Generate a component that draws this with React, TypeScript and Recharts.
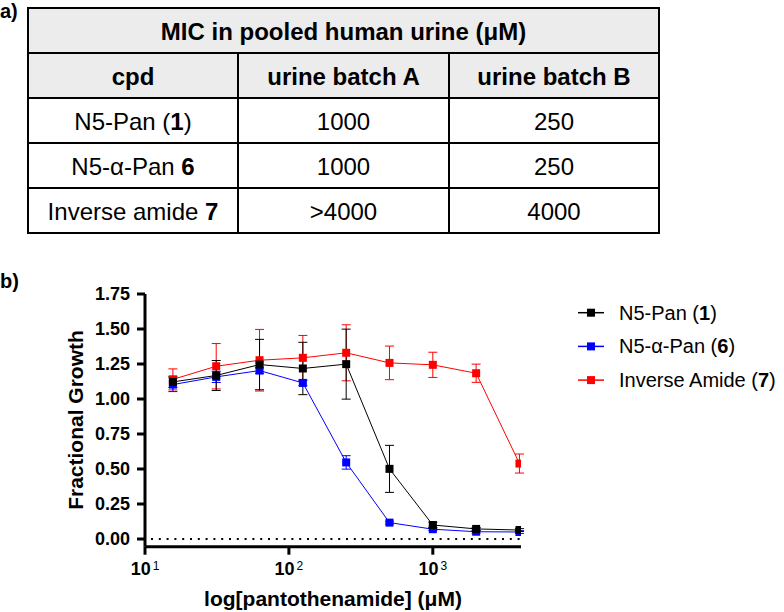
import React from 'react';
import { LineChart, Line, XAxis, YAxis, ErrorBar, ReferenceLine } from 'recharts';

// ---------- data ----------
const concentrations = [15.625, 31.25, 62.5, 125, 250, 500, 1000, 2000, 4000];

const n5Pan = [1.122, 1.168, 1.246, 1.218, 1.249, 0.501, 0.1, 0.072, 0.064];
const n5PanSD = [0.04, 0.107, 0.18, 0.187, 0.25, 0.168, 0.02, 0.01, 0.01];

const n5AlphaPan = [1.103, 1.158, 1.203, 1.115, 0.547, 0.117, 0.07, 0.052, 0.05];
const n5AlphaPanSD = [0.05, 0.04, 0.02, 0.02, 0.048, 0.01, 0.01, 0.01, 0.01];

const inverseAmide = [1.14, 1.234, 1.277, 1.294, 1.33, 1.258, 1.244, 1.184, 0.539];
const inverseAmideSD = [0.075, 0.162, 0.22, 0.16, 0.2, 0.12, 0.09, 0.065, 0.068];

const xTicks = [10, 100, 1000];
const xTickExponents = ['1', '2', '3'];
const yTicks = [0, 0.25, 0.5, 0.75, 1, 1.25, 1.5, 1.75];

const legendNames = [
  ['N5-Pan (', '1', ')'],
  ['N5-α-Pan (', '6', ')'],
  ['Inverse Amide (', '7', ')'],
];
const legendColors = ['#000000', '#0000ff', '#ff0000'];

const tableTitle = 'MIC in pooled human urine (μM)';
const tableHeaders = ['cpd', 'urine batch A', 'urine batch B'];
const compoundNames = [
  ['N5-Pan (', '1', ')'],
  ['N5-α-Pan ', '6', ''],
  ['Inverse amide ', '7', ''],
];
const batchA = ['1000', '1000', '>4000'];
const batchB = ['250', '250', '4000'];

const chartData = concentrations.map((c, i) => ({
  conc: c,
  n5: n5Pan[i],
  n5Err: n5PanSD[i],
  alpha: n5AlphaPan[i],
  alphaErr: n5AlphaPanSD[i],
  inv: inverseAmide[i],
  invErr: inverseAmideSD[i],
}));

const FONT = "'Liberation Sans', Arial, Helvetica, sans-serif";

const squareDot = (color: string) => (props: any) => {
  const { cx, cy, index } = props;
  if (cx == null || cy == null) return <g key={`e-${color}-${index}`} />;
  return <rect key={`d-${color}-${index}`} x={cx - 4} y={cy - 4} width={8} height={8} fill={color} />;
};

const YTick = (props: any) => {
  const { x, y, payload } = props;
  return (
    <text x={x} y={y} dy={6} textAnchor="end" fontFamily={FONT} fontWeight="bold" fontSize={18} fill="#000">
      {Number(payload.value).toFixed(2)}
    </text>
  );
};

const XTick = (props: any) => {
  const { x, y, payload } = props;
  const idx = xTicks.indexOf(payload.value);
  return (
    <text x={x} y={y} dy={18} textAnchor="middle" fontFamily={FONT} fill="#000">
      <tspan fontWeight="bold" fontSize={18}>10</tspan>
      <tspan fontSize={12} dx={2} dy={-5}>{xTickExponents[idx]}</tspan>
    </text>
  );
};

// table geometry
const colX = [28, 238, 449, 659];
const rowY = [8, 53, 98, 143, 188, 233];

const Table = () => {
  const cx = (i: number) => (colX[i] + colX[i + 1]) / 2;
  const cy = (j: number) => (rowY[j] + rowY[j + 1]) / 2 + 9;
  return (
    <g fontFamily={FONT} fontSize={24} fill="#000">
      <rect x={colX[0]} y={rowY[0]} width={colX[3] - colX[0]} height={rowY[2] - rowY[0]} fill="#ececec" />
      {rowY.map((y, j) => (
        <line key={`h${j}`} x1={colX[0]} x2={colX[3]} y1={y} y2={y} stroke="#000" strokeWidth={2} />
      ))}
      <line x1={colX[0]} x2={colX[0]} y1={rowY[0] - 1} y2={rowY[5] + 1} stroke="#000" strokeWidth={2} />
      <line x1={colX[3]} x2={colX[3]} y1={rowY[0] - 1} y2={rowY[5] + 1} stroke="#000" strokeWidth={2} />
      <line x1={colX[1]} x2={colX[1]} y1={rowY[1]} y2={rowY[5]} stroke="#000" strokeWidth={2} />
      <line x1={colX[2]} x2={colX[2]} y1={rowY[1]} y2={rowY[5]} stroke="#000" strokeWidth={2} />
      <text x={(colX[0] + colX[3]) / 2} y={cy(0)} textAnchor="middle" fontWeight="bold">{tableTitle}</text>
      {tableHeaders.map((h, i) => (
        <text key={`th${i}`} x={cx(i)} y={cy(1)} textAnchor="middle" fontWeight="bold">{h}</text>
      ))}
      {compoundNames.map((n, j) => (
        <text key={`c${j}`} x={cx(0)} y={cy(j + 2)} textAnchor="middle">
          <tspan>{n[0]}</tspan>
          <tspan fontWeight="bold">{n[1]}</tspan>
          <tspan>{n[2]}</tspan>
        </text>
      ))}
      {batchA.map((v, j) => (
        <text key={`a${j}`} x={cx(1)} y={cy(j + 2)} textAnchor="middle">{v}</text>
      ))}
      {batchB.map((v, j) => (
        <text key={`b${j}`} x={cx(2)} y={cy(j + 2)} textAnchor="middle">{v}</text>
      ))}
    </g>
  );
};

const Legend = () => (
  <g fontFamily={FONT} fontSize={20} fill="#000">
    {legendNames.map((n, i) => {
      const y = 312.7 + i * 33.7;
      return (
        <g key={`lg${i}`}>
          <line x1={578} x2={604} y1={y} y2={y} stroke={legendColors[i]} strokeWidth={1.5} />
          <rect x={587} y={y - 4} width={8} height={8} fill={legendColors[i]} />
          <text x={619} y={y + 7}>
            <tspan>{n[0]}</tspan>
            <tspan fontWeight="bold">{n[1]}</tspan>
            <tspan>{n[2]}</tspan>
          </text>
        </g>
      );
    })}
  </g>
);

export default function App() {
  return (
    <div style={{ position: 'absolute', left: 0, top: 0, width: 784, height: 612, background: '#fff' }}>
      <div style={{ position: 'absolute', left: 0, top: 0 }}>
        <LineChart
          width={784}
          height={612}
          data={chartData}
          margin={{ top: 294, right: 263, bottom: 0, left: 85 }}
        >
          <XAxis
            dataKey="conc"
            type="number"
            scale="log"
            domain={[10, 4100]}
            ticks={xTicks}
            interval={0}
            allowDataOverflow
            height={65.3}
            tickSize={8}
            tickMargin={2}
            axisLine={{ stroke: '#000', strokeWidth: 3 }}
            tickLine={{ stroke: '#000', strokeWidth: 3 }}
            tick={<XTick />}
          />
          <YAxis
            type="number"
            domain={[-0.055, 1.75]}
            ticks={yTicks}
            interval={0}
            allowDataOverflow
            width={60}
            tickSize={8}
            tickMargin={7}
            axisLine={{ stroke: '#000', strokeWidth: 3 }}
            tickLine={{ stroke: '#000', strokeWidth: 3 }}
            tick={<YTick />}
          />
          <ReferenceLine y={0} stroke="#000" strokeWidth={2} strokeDasharray="2 5.8" strokeDashoffset={-6} />
          <Line
            dataKey="inv"
            stroke="#ff0000"
            strokeWidth={1}
            type="linear"
            isAnimationActive={false}
            dot={squareDot('#ff0000')}
            activeDot={false}
          >
            <ErrorBar dataKey="invErr" direction="y" width={4.5} stroke="#ff0000" strokeWidth={1} isAnimationActive={false} />
          </Line>
          <Line
            dataKey="alpha"
            stroke="#0000ff"
            strokeWidth={1}
            type="linear"
            isAnimationActive={false}
            dot={squareDot('#0000ff')}
            activeDot={false}
          >
            <ErrorBar dataKey="alphaErr" direction="y" width={4.5} stroke="#0000ff" strokeWidth={1} isAnimationActive={false} />
          </Line>
          <Line
            dataKey="n5"
            stroke="#000000"
            strokeWidth={1}
            type="linear"
            isAnimationActive={false}
            dot={squareDot('#000000')}
            activeDot={false}
          >
            <ErrorBar dataKey="n5Err" direction="y" width={4.5} stroke="#000000" strokeWidth={1} isAnimationActive={false} />
          </Line>
        </LineChart>
      </div>
      <svg
        width={784}
        height={612}
        style={{ position: 'absolute', left: 0, top: 0, pointerEvents: 'none' }}
      >
        <text x={0} y={18} fontFamily={FONT} fontWeight="bold" fontSize={20}>a)</text>
        <text x={0} y={288} fontFamily={FONT} fontWeight="bold" fontSize={20}>b)</text>
        <Table />
        <text
          x={83}
          y={420}
          transform="rotate(-90, 83, 420)"
          textAnchor="middle"
          fontFamily={FONT}
          fontWeight="bold"
          fontSize={21}
        >
          Fractional Growth
        </text>
        <text x={333} y={606} textAnchor="middle" fontFamily={FONT} fontWeight="bold" fontSize={21}>
          log[pantothenamide] (μM)
        </text>
        <Legend />
      </svg>
    </div>
  );
}
